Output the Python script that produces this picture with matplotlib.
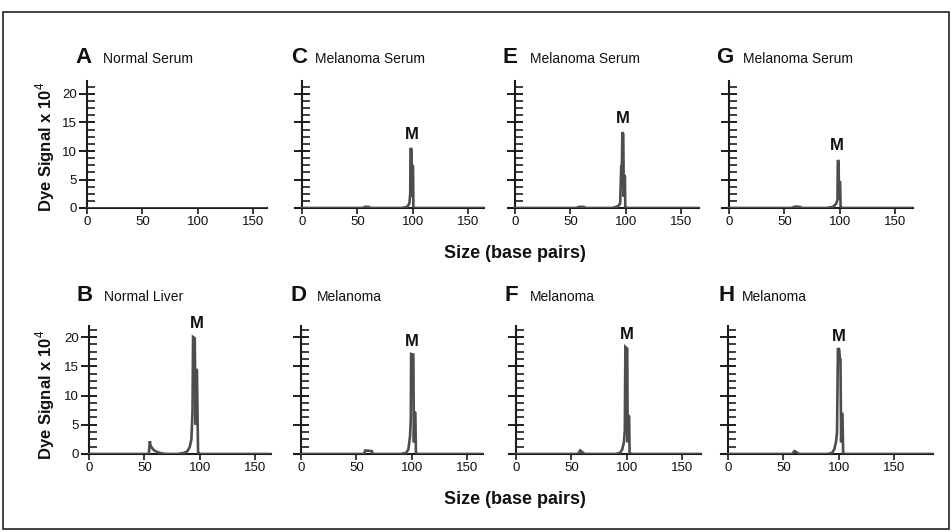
import matplotlib
matplotlib.use("Agg")
import matplotlib.pyplot as plt
from matplotlib.ticker import MultipleLocator, FixedLocator, NullFormatter
from matplotlib.patches import Rectangle

plt.rcParams['font.family'] = ['Liberation Sans', 'DejaVu Sans']
plt.rcParams['mathtext.fontset'] = 'custom'
plt.rcParams['mathtext.rm'] = 'Liberation Sans'
plt.rcParams['mathtext.bf'] = 'Liberation Sans:bold'

# ---- data (size in bp, signal x 10^4) ----
panel_letters = ['A', 'C', 'E', 'G', 'B', 'D', 'F', 'H']
panel_titles = ['Normal Serum', 'Melanoma Serum', 'Melanoma Serum', 'Melanoma Serum',
                'Normal Liver', 'Melanoma', 'Melanoma', 'Melanoma']
x_tick_values = [0, 50, 100, 150]
y_tick_values = [0, 5, 10, 15, 20]
x_max = [163, 164, 166, 166, 164, 164, 167, 185]

A_x = [0, 163]
A_y = [0, 0]
C_x = [0, 55, 57, 60, 62, 90, 95, 97, 97.8, 98, 99, 99.3, 99.6, 100.3, 100.6, 101, 164]
C_y = [0, 0, 0.2, 0.2, 0, 0, 0.2, 0.8, 2.5, 10.5, 10.3, 2, 7.5, 7.3, 0.3, 0, 0]
E_x = [0, 55, 58, 62, 64, 88, 93, 95, 96, 96.5, 97, 97.8, 98.3, 98.6, 99.3, 99.6, 101, 166]
E_y = [0, 0, 0.2, 0.2, 0, 0, 0.3, 0.8, 7.5, 7.0, 13.3, 13.0, 2, 5.8, 5.5, 0.3, 0, 0]
G_x = [0, 56, 60, 64, 66, 88, 94, 97, 98, 98.3, 99.0, 99.4, 99.8, 100.4, 100.8, 102, 166]
G_y = [0, 0, 0.25, 0.2, 0, 0, 0.2, 0.8, 1.5, 8.4, 8.2, 1.5, 4.6, 4.5, 0.3, 0, 0]
B_x = [0, 54, 55, 55.5, 57, 59, 62, 66, 70, 80, 86, 89, 91, 92.5, 93.5, 94, 95.5, 96.5,
       97, 97.5, 98.5, 99, 100, 164]
B_y = [0, 0, 2.2, 1.5, 1.0, 0.6, 0.3, 0.1, 0, 0, 0.2, 0.5, 1.2, 2.5, 7.2, 20, 19.8, 5,
       14.5, 14.3, 0.5, 0, 0, 0]
D_x = [0, 57, 58, 64, 65, 90, 95, 97, 98.5, 99.2, 99.5, 101.5, 102, 102.5, 103.3, 103.8, 105, 164]
D_y = [0, 0, 0.6, 0.5, 0, 0, 0.2, 0.8, 3, 6, 17.1, 17.0, 2, 7.2, 7.0, 0.3, 0, 0]
F_x = [0, 56, 58, 60, 62, 90, 94, 96, 97.5, 98.3, 98.8, 100.5, 100.9, 101.3, 102.2, 102.6, 104, 167]
F_y = [0, 0, 0.6, 0.3, 0, 0, 0.2, 0.8, 2, 4, 18.3, 18.0, 2, 6.6, 6.4, 0.3, 0, 0]
H_x = [0, 58, 60, 62, 64, 90, 94, 96, 97.5, 98.5, 99.3, 100.5, 101, 101.6, 102.2, 102.6,
       103.4, 104, 105, 185]
H_y = [0, 0, 0.5, 0.3, 0, 0, 0.2, 0.8, 2, 3.7, 18.1, 17.8, 16.4, 16.2, 2, 7.0, 6.8, 0.3, 0, 0]

# M marker positions (x, y) ; None where no marker
M_pos = [None, (99.4, 11.6), (97.6, 14.3), (97.6, 9.7),
         (97.5, 21.1), (100, 17.9), (100, 19.1), (100.3, 18.8)]

traces_x = [A_x, C_x, E_x, G_x, B_x, D_x, F_x, H_x]
traces_y = [A_y, C_y, E_y, G_y, B_y, D_y, F_y, H_y]

# ---- layout ----
W, H = 952, 532
fig = plt.figure(figsize=(W / 100, H / 100), dpi=100)

px_per_unit = 1.107
zero_px = [87, 302, 515, 729, 89, 301, 516, 728]
row_bottom_px = [208, 208, 208, 208, 454, 454, 454, 454]
row_top = [22.3, 22.3, 22.3, 22.3, 21.8, 21.8, 21.8, 21.8]
row_scale = [5.7, 5.7, 5.7, 5.7, 5.85, 5.85, 5.85, 5.85]
xmin = -6

axcol = '#1c1c1c'
tracecol = '#4d4d4d'

for i in range(8):
    left_px = zero_px[i] + xmin * px_per_unit
    width_px = (x_max[i] - xmin) * px_per_unit
    height_px = row_top[i] * row_scale[i]
    ax = fig.add_axes([left_px / W, (H - row_bottom_px[i]) / H, width_px / W, height_px / H])
    ax.plot(traces_x[i], traces_y[i], color=tracecol, lw=1.9, solid_joinstyle='miter', zorder=3)
    ax.set_xlim(xmin, x_max[i])
    ax.set_ylim(0, row_top[i])
    for s in ['top', 'right']:
        ax.spines[s].set_visible(False)
    ax.spines['left'].set_position(('data', 0))
    for s in ['left', 'bottom']:
        ax.spines[s].set_color(axcol)
        ax.spines[s].set_linewidth(1.5)
    ax.xaxis.set_major_locator(FixedLocator(x_tick_values))
    ax.yaxis.set_major_locator(FixedLocator(y_tick_values))
    ax.yaxis.set_minor_locator(MultipleLocator(1.25))
    ax.tick_params(axis='x', direction='out', length=4, width=1.2, color=axcol,
                   labelsize=9.5, pad=2, labelcolor='#111111')
    ax.tick_params(axis='y', which='major', direction='inout', length=12, width=1.4,
                   color=axcol, labelsize=9.5, pad=1, labelcolor='#111111')
    ax.tick_params(axis='y', which='minor', direction='in', length=6, width=1.2, color=axcol)
    if i not in (0, 4):
        ax.yaxis.set_major_formatter(NullFormatter())
    if M_pos[i] is not None:
        mx, my = M_pos[i]
        ax.text(mx, my, 'M', ha='center', va='bottom', fontsize=12, fontweight='bold',
                color='#111111')
    ax.patch.set_alpha(0)

# panel titles
letter_px = [75, 291, 503, 716, 76, 290, 505, 718]
title_px = [103, 315, 530, 743, 104, 317, 530, 742]
base_px = [63, 63, 63, 63, 301, 301, 301, 301]
for i in range(8):
    fig.text(letter_px[i] / W, (H - base_px[i]) / H, panel_letters[i], fontsize=16,
             fontweight='bold', va='baseline', ha='left', color='#111111')
    fig.text(title_px[i] / W, (H - base_px[i]) / H, panel_titles[i], fontsize=10,
             va='baseline', ha='left', color='#111111')

# axis labels
ylab = 'Dye Signal x 10$^{4}$'
fig.text(45 / W, (H - 147) / H, ylab, rotation=90, fontsize=12, fontweight='bold',
         ha='center', va='center', color='#111111')
fig.text(45 / W, (H - 395) / H, ylab, rotation=90, fontsize=12, fontweight='bold',
         ha='center', va='center', color='#111111')
fig.text(515 / W, (H - 254) / H, 'Size (base pairs)', fontsize=13, fontweight='bold',
         ha='center', va='center', color='#111111')
fig.text(515 / W, (H - 500) / H, 'Size (base pairs)', fontsize=13, fontweight='bold',
         ha='center', va='center', color='#111111')

# outer frame
fig.patches.append(Rectangle((3 / W, 3 / H), 946 / W, 517 / H, transform=fig.transFigure,
                             fill=False, edgecolor='#222222', linewidth=1.2))

fig.savefig('out.png', dpi=100)
